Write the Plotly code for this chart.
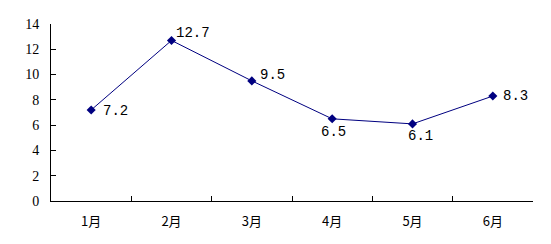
import plotly.graph_objects as go

months = ["1月", "2月", "3月", "4月", "5月", "6月"]
values = [7.2, 12.7, 9.5, 6.5, 6.1, 8.3]
labels = ["7.2", "12.7", "9.5", "6.5", "6.1", "8.3"]
# label offsets in pixels (dx right, dy up)
label_dx = [24, 21, 21, 1, 8, 23]
label_dy = [-1, 7, 6, -13, -12, 0]

font_fam = "Liberation Mono, Noto Sans CJK SC, monospace"

fig = go.Figure(go.Scatter(
    x=months, y=values, mode="lines+markers",
    line=dict(color="#000080", width=1),
    marker=dict(symbol="diamond", size=7, color="#000080"),
    cliponaxis=False,
))

for m, v, t, dx, dy in zip(months, values, labels, label_dx, label_dy):
    fig.add_annotation(x=m, y=v, text=t, showarrow=False, xshift=dx, yshift=dy,
                       font=dict(family=font_fam, size=14, color="black"))

fig.update_layout(
    width=551, height=244,
    margin=dict(l=51, r=18, t=24, b=43),
    paper_bgcolor="white", plot_bgcolor="white",
    showlegend=False,
    font=dict(family=font_fam, size=13, color="black"),
    xaxis=dict(type="category", range=[-0.5, 5.5], showline=True, linecolor="black",
               linewidth=1, ticks="inside", ticklen=5, tickcolor="black",
               tickson="boundaries", showgrid=False, zeroline=False,
               ticklabelstandoff=8,
               tickfont=dict(family="Noto Sans CJK SC", size=13)),
    yaxis=dict(range=[0, 14], dtick=2, showline=True, linecolor="black", linewidth=1,
               ticks="inside", ticklen=5, tickcolor="black", showgrid=False,
               zeroline=False, ticklabelstandoff=8,
               tickfont=dict(family="Liberation Serif, serif", size=14)),
)

fig.write_html("out.html")
